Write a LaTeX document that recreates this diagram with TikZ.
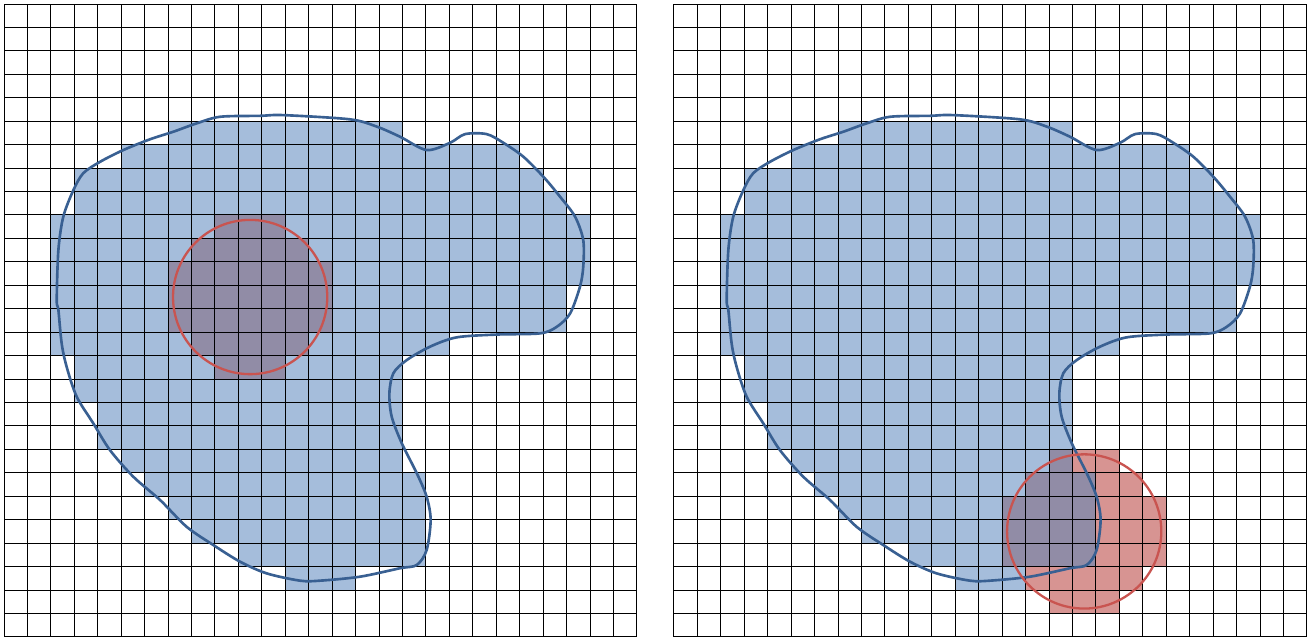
\documentclass[tikz,border=0pt]{standalone}

\definecolor{cellblue}{RGB}{165,189,219}
\definecolor{cellred}{RGB}{215,148,146}
\definecolor{cellmix}{RGB}{145,140,166}
\definecolor{blobline}{RGB}{57,96,146}
\definecolor{ringline}{RGB}{201,84,80}

\tikzset{
  bluecell/.style={fill=cellblue},
  redcell/.style={fill=cellred},
  mixcell/.style={fill=cellmix},
  gridline/.style={draw=black, line width=0.6pt},
  blob/.style={draw=blobline, line width=1.6pt, line join=round},
  ring/.style={draw=ringline, line width=1.4pt},
}

% rows of the raster: row/first column/last column
\newcommand{\blueRows}{5/7/16, 6/5/21, 7/3/22, 8/3/23, 9/2/24, 10/2/24, 11/2/24,
  12/2/23, 13/2/23, 14/2/18, 15/3/16, 16/3/16, 17/4/16, 18/4/16, 19/5/16,
  20/6/17, 21/7/17, 22/8/17, 23/10/17, 24/12/14}

% outline of the shape, in cell units
\newcommand{\blobShape}{plot[smooth cycle, tension=0.5] coordinates {
  (2.25,12.63) (2.32,10.49) (2.53,9.07) (2.96,7.94) (3.38,7.22) (4.10,6.73)
  (5.09,6.23) (6.23,5.77) (7.22,5.45) (8.22,5.09) (9.22,4.81) (10.92,4.77)
  (11.92,4.74) (14.76,4.92) (15.90,5.23) (16.89,5.66) (18.03,6.23) (19.03,5.92)
  (19.67,5.55) (20.59,5.55) (21.30,5.92) (22.15,6.51) (23.01,7.37) (23.72,8.22)
  (24.36,9.07) (24.71,10.07) (24.71,11.21) (24.57,12.06) (24.15,13.20)
  (23.58,13.77) (22.87,14.05) (21.02,14.10) (19.31,14.22) (18.17,14.62)
  (17.18,15.19) (16.61,15.75) (16.44,16.61) (16.54,17.61) (16.97,18.74)
  (17.61,20.02) (18.03,21.02) (18.20,22.01) (18.03,23.29) (17.61,23.93)
  (16.89,24.07) (15.19,24.43) (13.48,24.60) (12.63,24.60) (11.21,24.29)
  (10.07,23.79) (8.93,23.08) (7.79,22.30) (6.66,21.16) (5.52,20.17)
  (4.52,19.03) (3.81,17.89) (3.10,16.75) (2.67,15.47) (2.46,14.48) (2.32,13.05)}}

\begin{document}
\begin{tikzpicture}[x=0.5cm, y=-0.5cm]
  \useasboundingbox (-0.171,-0.171) rectangle (55.67,27.17);

  % left panel
  \begin{scope}
    \foreach \r/\a/\b in \blueRows
      \fill[bluecell] (\a,\r) rectangle (\b+1,\r+1);
    \foreach \r/\a/\b in {9/9/11, 10/8/12, 11/7/13, 12/7/13, 13/7/13, 14/8/12, 15/9/11}
      \fill[mixcell] (\a,\r) rectangle (\b+1,\r+1);
    \foreach \i in {0,...,27} {
      \draw[gridline] (\i,0) -- (\i,27);
      \draw[gridline] (0,\i) -- (27,\i);
    }
    \draw[blob] \blobShape;
    \coordinate (leftc) at (10.5,12.5);
    \draw[ring] (leftc) circle[radius=1.645cm];
  \end{scope}

  % right panel
  \begin{scope}[shift={(28.58,0)}]
    \foreach \r/\a/\b in \blueRows
      \fill[bluecell] (\a,\r) rectangle (\b+1,\r+1);
    \foreach \r/\a/\b in {19/17/18, 20/18/19, 21/18/20, 22/18/20, 23/18/20, 24/15/19, 25/16/18}
      \fill[redcell] (\a,\r) rectangle (\b+1,\r+1);
    \foreach \r/\a/\b in {19/16/16, 20/15/17, 21/14/17, 22/14/17, 23/14/17}
      \fill[mixcell] (\a,\r) rectangle (\b+1,\r+1);
    \foreach \i in {0,...,27} {
      \draw[gridline] (\i,0) -- (\i,27);
      \draw[gridline] (0,\i) -- (27,\i);
    }
    \draw[blob] \blobShape;
    \coordinate (rightc) at (17.5,22.5);
    \draw[ring] (rightc) circle[radius=1.645cm];
  \end{scope}
\end{tikzpicture}
\end{document}
